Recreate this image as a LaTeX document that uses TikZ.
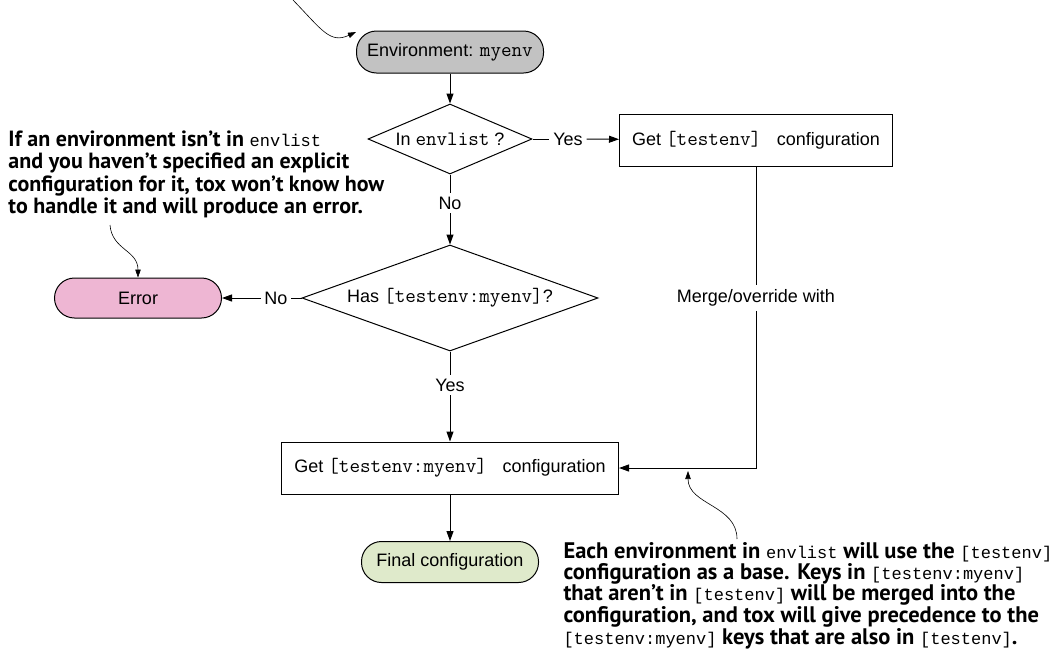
\documentclass[tikz,border=0pt]{standalone}
\usepackage{fontspec}
\setmainfont{Liberation Sans}
\setmonofont{Latin Modern Mono}[Scale=1.14]
\newfontfamily\notefont{PT Sans}
\newfontfamily\notemonofont{Liberation Mono}
\newcommand\nmono[1]{{\notemonofont\mdseries\fontsize{17}{17}\selectfont #1}}
\usetikzlibrary{shapes.geometric,arrows.meta}
\definecolor{envgray}{HTML}{C2C2C2}
\definecolor{errpink}{HTML}{EEB6D3}
\definecolor{finalgreen}{HTML}{DFEACB}
\begin{document}
\begin{tikzpicture}[x=1pt,y=-1pt,line width=1pt,
    >={Triangle[length=10pt,width=7pt]},
    every node/.style={font=\fontsize{18}{21}\selectfont},
    pill/.style={draw,rounded corners=20pt,inner sep=0pt},
    decision/.style={draw,diamond,inner sep=0pt},
    stepbox/.style={draw,rectangle,inner sep=0pt},
    note/.style={align=left,inner sep=0pt,font=\notefont\bfseries\fontsize{22}{22.5}\selectfont},
    notearrow/.style={line width=0.6pt,-{Triangle[length=8pt,width=5.5pt]}}]
  \useasboundingbox (0,0) rectangle (1058,670);

  \node[pill,fill=envgray,minimum width=187pt,minimum height=42pt] (env) at (450,52) {Environment: \texttt{myenv}};
  \node[decision,aspect=2.3,minimum width=164pt,minimum height=70pt] (inlist) at (450,139) {In \texttt{envlist} ?};
  \node[stepbox,minimum width=273pt,minimum height=52pt] (getbase) at (756,140) {Get \texttt{[testenv]\ } configuration};
  \node (yes1) at (568,139) {Yes};
  \node (no1) at (450,203) {No};
  \node[decision,aspect=2.8,minimum width=296pt,minimum height=106pt] (hasenv) at (450,298) {Has \texttt{[testenv:myenv]}?};
  \node (no2) at (276,298) {No};
  \node[pill,fill=errpink,minimum width=167pt,minimum height=40pt] (err) at (138,298) {Error};
  \node (yes2) at (450,385) {Yes};
  \node[stepbox,minimum width=337pt,minimum height=52pt] (getmerged) at (450,468) {Get \texttt{[testenv:myenv]\ } configuration};
  \node[pill,fill=finalgreen,minimum width=177pt,minimum height=41pt] (final) at (450,562) {Final configuration};
  \node[fill=white,inner sep=4pt] (mergelbl) at (756,298) {Merge/override with};
  \coordinate (corner) at (getbase.south |- getmerged.east);

  \draw[->] (env) -- (inlist);
  \draw (inlist.east) -- (yes1);
  \draw[->] (yes1) -- (getbase);
  \draw (inlist.south) -- (no1);
  \draw[->] (no1) -- (hasenv);
  \draw (hasenv.west) -- (no2);
  \draw[->] (no2) -- (err);
  \draw (hasenv.south) -- (yes2);
  \draw[->] (yes2) -- (getmerged);
  \draw[->] (getmerged) -- (final);
  \draw (getbase.south) -- (mergelbl);
  \draw[->] (mergelbl) -- (corner) -- (getmerged.east);

  \node[note,anchor=north west] (errnote) at (8,130) {If an environment isn’t in \nmono{envlist}\\and you haven’t specified an explicit\\configuration for it, tox won’t know how\\to handle it and will produce an error.};
  \node[note,anchor=north west,font=\notefont\bfseries\fontsize{22.5}{20.5}\selectfont] (basenote) at (563,542) {Each environment in \nmono{envlist} will use the \nmono{[testenv]}\\configuration as a base. Keys in \nmono{[testenv:myenv]}\\that aren’t in \nmono{[testenv]} will be merged into the\\configuration, and tox will give precedence to the\\\nmono{[testenv:myenv]} keys that are also in \nmono{[testenv]}.};

  \coordinate (toptail) at (293,0);
  \coordinate (errtail) at (110,225);
  \coordinate (basetail) at (737,539);
  \coordinate (basetip) at (688,471);
  \draw[notearrow] (toptail) .. controls (322,30) and (330,44) .. (env.168);
  \draw[notearrow] (errtail) .. controls (112,250) and (138,250) .. (err.north);
  \draw[notearrow] (basetail) .. controls (737,505) and (688,505) .. (basetip);
\end{tikzpicture}
\end{document}
